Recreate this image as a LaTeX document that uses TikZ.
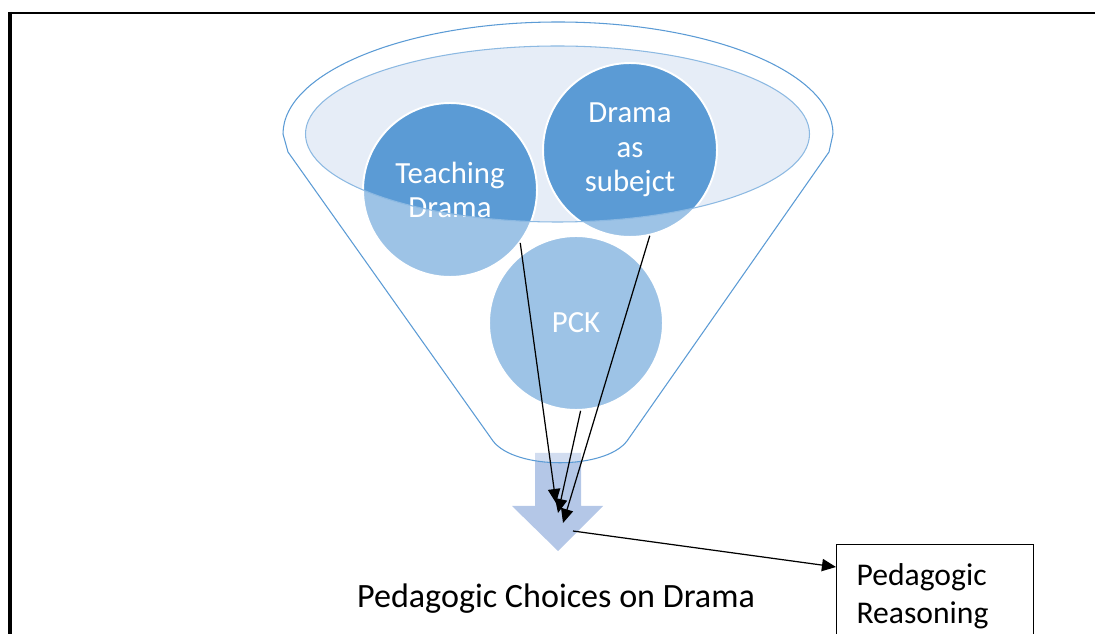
\documentclass[tikz,border=0pt]{standalone}
\usepackage{fontspec}
\setmainfont{Carlito}
\usetikzlibrary{arrows.meta}
\definecolor{dkblue}{HTML}{5B9BD5}
\definecolor{ltblue}{HTML}{9DC3E6}
\definecolor{paleblue}{HTML}{E6EDF7}
\definecolor{arrowblue}{HTML}{B4C7E7}

\begin{document}
\begin{tikzpicture}[
  x=0.02cm, y=-0.02cm,
  bubble/.style={circle, draw=white, line width=1.1pt, fill=ltblue,
                 minimum size=3.48cm, inner sep=0pt, align=center,
                 text=white, font=\fontsize{17.5}{19.5}\selectfont,
                 path picture={\fill[dkblue] (rim) ellipse [x radius=252, y radius=88];}},
  box/.style={draw, line width=0.6pt, anchor=north west, align=left,
              text width=3.14cm, inner xsep=0.4cm, inner ysep=0.38cm,
              font=\fontsize{18}{21.5}\selectfont},
  arr/.style={-{Triangle[length=8pt, width=7pt]}, line width=0.7pt}
]
\useasboundingbox (0,0) rectangle (1095,634);
\clip (0,0) rectangle (1095,634);
\draw[line width=1.2pt] (8,13) -- (1095,13);
\draw[line width=2.3pt] (10,12) -- (10,634);

\coordinate (rim) at (557.5,134);
\coordinate (tip1) at (556,503);
\coordinate (tip2) at (558,513);
\coordinate (tip3) at (563,523);
\coordinate (src) at (573,531);

\fill[arrowblue] (535,453) -- (581,453) -- (581,506) -- (603,506) -- (558,551)
  -- (512,506) -- (535,506) -- cycle;
\draw[dkblue, line width=0.6pt, fill=white, fill opacity=0.4]
  (288,152) -- (283,134) arc[start angle=180, end angle=360, x radius=275, y radius=112]
  -- (829,152) -- (627,441) .. controls (605,470) and (515,470) .. (493,441) -- cycle;
\fill[paleblue] (rim) ellipse [x radius=252, y radius=88];

\node[bubble] (pck) at (576,323) {PCK};
\node[bubble] (td) at (450,190) {Teaching\\Drama};
\node[bubble] (das) at (630,150) {Drama\\as\\subejct};
\draw[dkblue!70, line width=0.6pt] (rim) ellipse [x radius=252, y radius=88];

\node[font=\fontsize{19.4}{23}\selectfont, anchor=base] (choice) at (556,607)
  {Pedagogic Choices on Drama};
\node[box] (reason) at (836,544) {Pedagogic\\Reasoning};

\draw[arr] (td.-37) -- (tip1);
\draw[arr] (pck.-87) -- (tip2);
\draw[arr] (das.-77) -- (tip3);
\draw[arr] (src) -- ([yshift=-0.46cm]reason.north west);
\end{tikzpicture}
\end{document}
